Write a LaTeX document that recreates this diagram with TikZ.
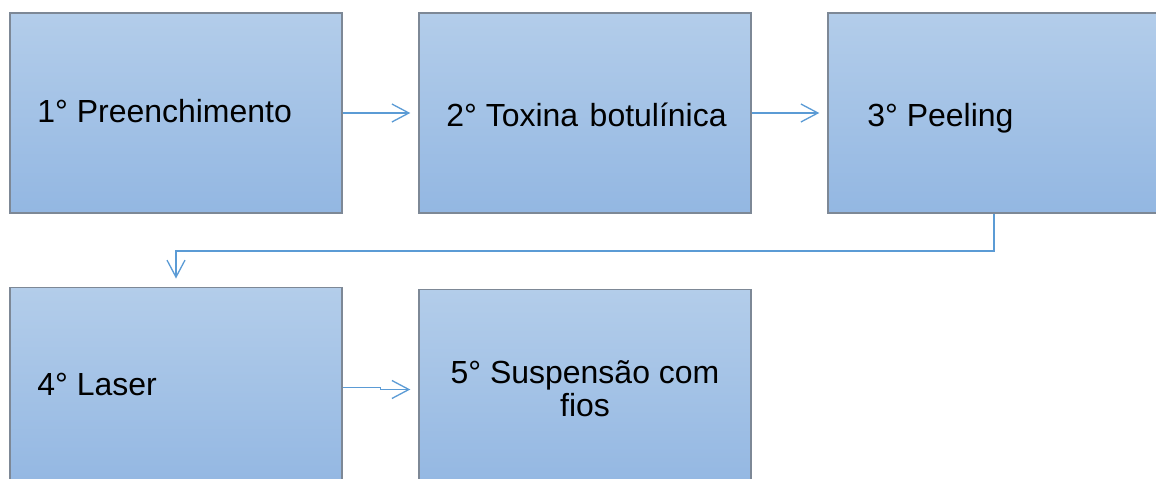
\documentclass[tikz,border=0pt]{standalone}
\usepackage{fontspec}
\setmainfont{Liberation Sans}
\usetikzlibrary{arrows.meta}
\definecolor{boxtop}{HTML}{B3CDEA}
\definecolor{boxbot}{HTML}{93B7E2}
\definecolor{boxline}{HTML}{7D8896}
\definecolor{flow}{HTML}{5B9BD5}
\begin{document}
\begin{tikzpicture}[x=0.02cm, y=-0.02cm,
    etapa/.style={draw=boxline, line width=0.85pt, top color=boxtop, bottom color=boxbot,
        minimum width=6.64cm, minimum height=4.01cm, inner sep=0pt},
    rotulo/.style={inner sep=0pt, font=\fontsize{18.2}{18.8}\selectfont},
    seta/.style={draw=flow, line width=0.75pt, -{Straight Barb[length=0.34cm, width=0.36cm]},
        shorten >=0.16cm}]
    \useasboundingbox (0,0) rectangle (1156,479);
    \draw
    (176,113)node(1)[etapa]{}
    (585,113)node(2)[etapa]{}
    (994,113)node(3)[etapa]{}
    (176,387.5)node(4)[etapa]{}
    (585,389.5)node(5)[etapa]{};
    %
    \node (t1)[rotulo, anchor=base west] at (37,122.7) {1° Preenchimento};
    \node (t2)[rotulo, anchor=base west] at (446,126.7) {2° Toxina\kern1.5pt{} botulínica};
    \node (t3)[rotulo, anchor=base west] at (867,126.7) {3° Peeling};
    \node (t4)[rotulo, anchor=base west] at (37,396) {4° Laser};
    \node (t5)[rotulo, align=center] at (585,389) {5° Suspensão com\\fios};
    %
    \draw [seta](1)--(2);
    \draw [seta](2)--(3);
    \draw [seta](3.south)--++(0,37)-|(4.north);
    \draw [seta](4.east)--++(38,0)|-(5.west);
\end{tikzpicture}
\end{document}
